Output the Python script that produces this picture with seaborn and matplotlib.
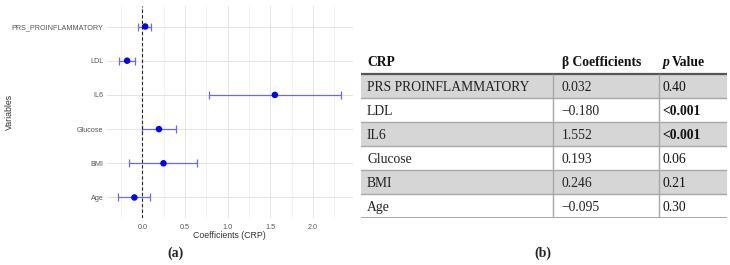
import numpy as np
import pandas as pd
import seaborn as sns
import matplotlib.pyplot as plt
from matplotlib.ticker import MultipleLocator, FormatStrFormatter

# data
variables = ["PRS_PROINFLAMMATORY", "LDL", "IL6", "Glucose", "BMI", "Age"]
coefs = [0.032, -0.180, 1.552, 0.193, 0.246, -0.095]
ci_low = [-0.05, -0.28, 0.78, 0.0, -0.155, -0.285]
ci_high = [0.105, -0.09, 2.33, 0.39, 0.64, 0.09]
p_values = ["0.40", "<0.001", "<0.001", "0.06", "0.21", "0.30"]
significant = [False, True, True, False, False, False]

df = pd.DataFrame({"variable": variables, "coef": coefs,
                   "low": ci_low, "high": ci_high, "p": p_values})

sns.set_theme(style="white")
plt.rcParams['font.family'] = ['Liberation Sans', 'DejaVu Sans']

W, H = 730, 265
fig = plt.figure(figsize=(W / 100, H / 100), dpi=100)

# --- forest plot (a)
ax = fig.add_axes([107 / W, 47 / H, 245.5 / W, 212 / H])
ax.errorbar(df["coef"], df["variable"],
            xerr=[df["coef"] - df["low"], df["high"] - df["coef"]],
            fmt="none", ecolor="#6a6af0", elinewidth=0.9,
            capsize=2.6, capthick=0.9, zorder=2)
sns.scatterplot(data=df, x="coef", y="variable", color="#0000ff", s=22,
                edgecolor="none", zorder=3, ax=ax)
ax.axvline(0, color="#222222", ls=(0, (3, 2)), lw=0.8, zorder=2.5)

ax.set_xlim(-0.416, 2.462)
ax.set_ylim(5.6, -0.6)
ax.xaxis.set_major_locator(MultipleLocator(0.5))
ax.xaxis.set_minor_locator(MultipleLocator(0.25))
ax.xaxis.set_major_formatter(FormatStrFormatter("%.1f"))
ax.grid(which="major", color="#e4e4e4", lw=0.7)
ax.grid(which="minor", axis="x", color="#efefef", lw=0.5)
ax.set_axisbelow(True)
for s in ax.spines.values():
    s.set_visible(False)
ax.tick_params(axis="both", which="both", length=0, labelsize=5.2,
               labelcolor="#555555")
ax.tick_params(axis="x", pad=4)
ax.tick_params(axis="y", pad=2.5)
ax.set_xlabel("Coefficients (CRP)", fontsize=6.3, color="#333333", labelpad=0.5)
ax.set_ylabel("Variables", fontsize=6.3, color="#333333")
ax.yaxis.set_label_coords((14 - 107) / 245.5, 0.5)

# --- table (b)
serif = ['Liberation Serif', 'DejaVu Serif']
tax = fig.add_axes([361 / W, 47 / H, 366 / W, 168 / H])
tax.set_xlim(0, 366)
tax.set_ylim(7, 0)
tax.axis("off")

for i in range(len(variables)):
    if i % 2 == 0:
        tax.axhspan(i + 1, i + 2, color="#d6d6d6", lw=0)
tax.axhline(1, color="#555555", lw=1.6)
for i in range(2, 7):
    tax.axhline(i, color="#a8a8a8", lw=1.0)
tax.axhline(7, color="#9a9a9a", lw=1.2)
tax.vlines([191.7, 298.3], 1, 7, color="#a8a8a8", lw=1.0)

fs = 9.8
tax.text(6, 0.5, "CRP", family=serif, weight="bold", size=fs, va="center", color="#111111")
tax.text(200.5, 0.5, "β Coefficients", family=serif, weight="bold", size=fs, va="center", color="#111111")
tax.text(301.5, 0.5, "p", family=serif, weight="bold", style="italic", size=fs, va="center", color="#111111")
tax.text(310.5, 0.5, "Value", family=serif, weight="bold", size=fs, va="center", color="#111111")

for i, row in df.iterrows():
    y = i + 1.55
    tax.text(6, y, row["variable"].replace("_", " "), family=serif, size=fs, va="center", color="#222222")
    tax.text(200.5, y, f"{row['coef']:.3f}".replace("-", "\u2212"), family=serif, size=fs, va="center", color="#222222")
    tax.text(301.5, y, row["p"], family=serif, size=fs, va="center", color="#111111",
             weight="bold" if significant[i] else "normal")

fig.text(175 / W, 1 - 253 / H, "(a)", family=serif, weight="bold", size=10, ha="center", va="center")
fig.text(543 / W, 1 - 253 / H, "(b)", family=serif, weight="bold", size=10, ha="center", va="center")

fig.savefig("out.png", dpi=100)
